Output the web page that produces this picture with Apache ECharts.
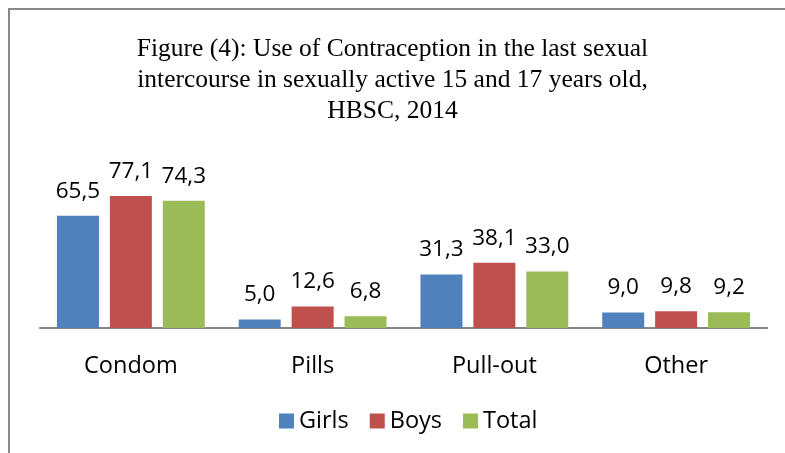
<!DOCTYPE html>
<html>
<head>
<meta charset="utf-8">
<script src="https://cdn.jsdelivr.net/npm/echarts@6/dist/echarts.min.js"></script>
<style>
  html, body { margin: 0; padding: 0; background: #fff; }
  #main { width: 785px; height: 453px; }
</style>
</head>
<body>
<div id="main"></div>
<script>
// data
var categories = ['Condom', 'Pills', 'Pull-out', 'Other'];
var girls = [65.5, 5.0, 31.3, 9.0];
var boys = [77.1, 12.6, 38.1, 9.8];
var total = [74.3, 6.8, 33.0, 9.2];

var labelFont = 'Open Sans';

function bar(name, data, color) {
  return {
    name: name,
    type: 'bar',
    data: data,
    barWidth: 42,
    barGap: '26%',
    itemStyle: { color: color },
    label: {
      show: true,
      position: 'top',
      distance: 13,
      color: '#000',
      fontFamily: labelFont,
      fontSize: 22.5,
      formatter: function (p) { return p.value.toFixed(1).replace('.', ','); }
    }
  };
}

var myChart = echarts.init(document.getElementById('main'));
var option = {
  animation: false,
  backgroundColor: '#fff',
  title: {
    text: 'Figure (4): Use of Contraception in the last sexual\nintercourse in sexually active 15 and 17 years old,\nHBSC, 2014',
    left: 'center',
    top: 29,
    textStyle: {
      fontFamily: 'Liberation Serif',
      fontWeight: 'normal',
      fontSize: 25.5,
      lineHeight: 31,
      color: '#000'
    }
  },
  graphic: [{
    type: 'rect',
    shape: { x: 9, y: 9, width: 800, height: 460 },
    style: { fill: 'none', stroke: '#888', lineWidth: 2 },
    z: 100
  }],
  legend: {
    bottom: 15,
    left: 274,
    icon: 'rect',
    itemWidth: 15,
    itemHeight: 15,
    itemGap: 21,
    textStyle: { fontFamily: labelFont, fontSize: 23.5, color: '#000' }
  },
  grid: { left: 40, right: 18, top: 191, bottom: 125 },
  xAxis: {
    type: 'category',
    data: categories,
    axisLine: { lineStyle: { color: '#868686', width: 2 } },
    axisTick: { show: false },
    axisLabel: { color: '#000', fontFamily: labelFont, fontSize: 23.5, margin: 26 }
  },
  yAxis: {
    type: 'value',
    min: 0,
    max: 80,
    show: false
  },
  series: [
    bar('Girls', girls, '#4F81BD'),
    bar('Boys', boys, '#C0504D'),
    bar('Total', total, '#9BBB59')
  ]
};
myChart.setOption(option);
</script>
</body>
</html>
